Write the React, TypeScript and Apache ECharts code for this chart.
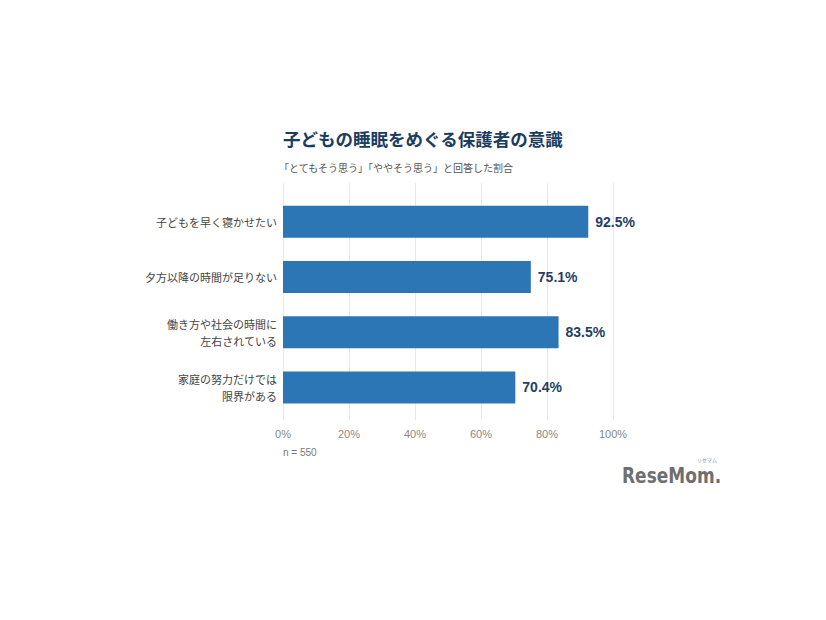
import React, { useEffect, useRef } from "react";
import * as echarts from "echarts";

const categories = [
  "子どもを早く寝かせたい",
  "夕方以降の時間が足りない",
  "働き方や社会の時間に\n左右されている",
  "家庭の努力だけでは\n限界がある",
];
const values = [92.5, 75.1, 83.5, 70.4];
const titleText = "子どもの睡眠をめぐる保護者の意識";
const subtitleText = "「とてもそう思う」「ややそう思う」と回答した割合";
const noteText = "n = 550";

export default function App() {
  const ref = useRef<HTMLDivElement>(null);
  useEffect(() => {
    if (!ref.current) return;
    const chart = echarts.init(ref.current, null, { renderer: "svg" });
    const jp = "'Noto Sans CJK JP', sans-serif";
    chart.setOption({
      animation: false,
      backgroundColor: "#ffffff",
      title: [
        {
          text: titleText,
          left: 283,
          top: 130,
          padding: 0,
          textStyle: { fontFamily: jp, fontSize: 17.5, fontWeight: "bold", color: "#1d3d60" },
        },
        {
          text: subtitleText,
          left: 279,
          top: 162,
          padding: 0,
          textStyle: { fontFamily: jp, fontSize: 10, fontWeight: "normal", color: "#555555" },
        },
      ],
      grid: [
        { left: 283, right: 213, top: 183, height: 237 },
        { left: 283, right: 213, top: 194, height: 221 },
      ],
      xAxis: [
        {
          gridIndex: 0,
          type: "value",
          min: 0,
          max: 100,
          interval: 20,
          axisLine: { show: false },
          axisTick: { show: false },
          splitLine: { show: true, lineStyle: { color: "#e8e8e8", width: 1 } },
          axisLabel: {
            formatter: "{value}%",
            color: "#888888",
            fontSize: 11,
            fontFamily: "'Liberation Sans', Arial, sans-serif",
            margin: 8,
          },
        },
        { gridIndex: 1, type: "value", min: 0, max: 100, show: false },
      ],
      yAxis: [
        { gridIndex: 0, type: "category", data: categories, show: false, inverse: true },
        {
          gridIndex: 1,
          type: "category",
          data: categories,
          inverse: true,
          axisLine: { show: false },
          axisTick: { show: false },
          axisLabel: {
            color: "#444444",
            fontSize: 11,
            fontFamily: jp,
            lineHeight: 17,
            margin: 6,
            align: "right",
          },
        },
      ],
      series: [
        {
          type: "bar",
          xAxisIndex: 1,
          yAxisIndex: 1,
          data: values,
          barWidth: 32,
          itemStyle: { color: "#2c76b5" },
          label: {
            show: true,
            position: "right",
            distance: 7,
            formatter: "{c}%",
            color: "#1f3f66",
            fontSize: 14,
            fontWeight: "bold",
            fontFamily: "'Liberation Sans', Arial, sans-serif",
          },
        },
      ],
      graphic: [
        {
          type: "text",
          left: 283,
          top: 447,
          style: {
            text: noteText,
            fill: "#777777",
            fontSize: 10,
            fontFamily: "'Liberation Sans', Arial, sans-serif",
          },
        },
        {
          type: "text",
          x: 622,
          y: 464,
          scaleX: 0.86,
          style: {
            text: "ReseMom.",
            fill: "#6f6f6f",
            fontSize: 22,
            fontWeight: "bold",
            fontFamily: "'DejaVu Sans Condensed', 'DejaVu Sans', sans-serif",
          },
        },
        {
          type: "text",
          x: 697,
          y: 457,
          style: {
            text: "リセマム",
            fill: "#8a8a8a",
            fontSize: 5,
            fontFamily: jp,
          },
        },
      ],
    });
    return () => chart.dispose();
  }, []);
  return (
    <div
      ref={ref}
      style={{ position: "fixed", left: 0, top: 0, width: 826, height: 620 }}
    />
  );
}
